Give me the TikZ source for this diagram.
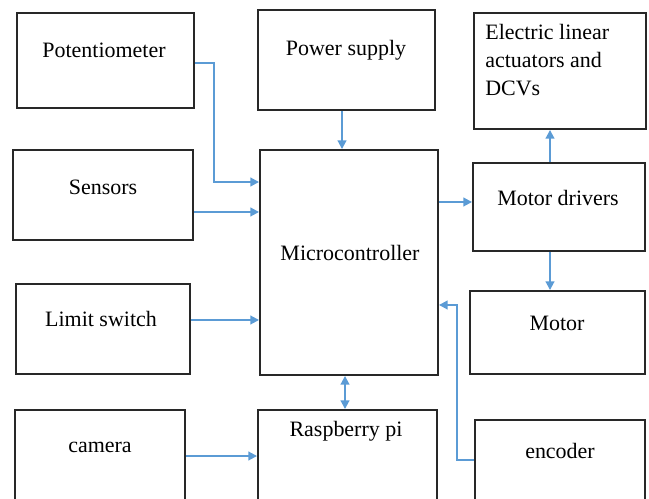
\documentclass[tikz,border=0pt]{standalone}
\usepackage{fontspec}
\setmainfont{Liberation Serif}
\usetikzlibrary{arrows.meta, positioning}
\definecolor{boxgray}{RGB}{40,40,40}
\definecolor{linkblue}{RGB}{91,155,213}

\begin{document}
\begin{tikzpicture}[
    x=0.02cm, y=-0.02cm,
    block/.style={rectangle, draw=boxgray, line width=1.1pt, minimum width=#1},
    block/.default=3.5cm,
    txt/.style={font=\fontsize{12.5}{15.9}\selectfont, inner sep=0pt},
    arrow/.style={-{Triangle[length=5pt, width=5pt]}, draw=linkblue, line width=1.1pt},
    twoway/.style={{Triangle[length=5pt, width=5pt]}-{Triangle[length=5pt, width=5pt]}, draw=linkblue, line width=1.1pt}
]
\useasboundingbox (0,0) rectangle (649,499);
\clip (0,0) rectangle (649,499);

% Left column
\node[block=3.54cm, minimum height=1.90cm] (pot) at (105.5,60.5) {};
\node[block=3.60cm, minimum height=1.80cm] (sens) at (103,195) {};
\node[block=3.48cm, minimum height=1.80cm] (lim) at (103,329) {};
\node[block=3.40cm, minimum height=2.20cm] (cam) at (100,465) {};

% Middle column
\node[block=3.54cm, minimum height=2.00cm] (power) at (346.5,60) {};
\node[block=3.56cm, minimum height=4.50cm] (micro) at (349,262.5) {};
\node[block=3.58cm, minimum height=2.20cm] (rpi) at (347.5,465) {};

% Right column
\node[block=3.44cm, minimum height=2.32cm] (elec) at (560,71) {};
\node[block=3.44cm, minimum height=1.76cm] (drv) at (559,207) {};
\node[block=3.50cm, minimum height=1.66cm] (motor) at (557.5,332.5) {};
\node[block=3.40cm, minimum height=2.20cm] (enc) at (560,475) {};

% Texts
\node[txt] (potT) at (104,50) {Potentiometer};
\node[txt] (sensT) at (103,187) {Sensors};
\node[txt] (limT) at (101,319) {Limit switch};
\node[txt] (camT) at (100,447) {camera};
\node[txt] (powerT) at (346,50) {Power supply};
\node[txt] (microT) at (350,253) {Microcontroller};
\node[txt] (rpiT) at (346,431) {Raspberry pi};
\node[txt, anchor=west, align=left] (elecT) at (485,60)
    {Electric linear\\actuators and\\DCVs};
\node[txt] (drvT) at (558,198) {Motor drivers};
\node[txt] (motorT) at (557,323) {Motor};
\node[txt] (encT) at (560,451) {encoder};

% Inputs to microcontroller
\draw[arrow] ([yshift=-0.05cm]pot.east) -- ++(19,0) |- ([yshift=1.61cm]micro.west);
\coordinate (s1) at ([yshift=-0.34cm]sens.east);
\draw[arrow] (s1) -- (s1 -| micro.west);
\coordinate (l1) at ([yshift=0.18cm]lim.east);
\draw[arrow] (l1) -- (l1 -| micro.west);
\draw[arrow] ([xshift=-0.09cm]power.south) -- ([xshift=-0.09cm]power.south |- micro.north);

% Outputs
\coordinate (d1) at ([yshift=0.1cm]drv.west);
\draw[arrow] (d1 -| micro.east) -- (d1);
\draw[arrow] ([xshift=-0.18cm]drv.north) -- ([xshift=-0.18cm]drv.north |- elec.south);
\draw[arrow] ([xshift=-0.18cm]drv.south) -- ([xshift=-0.18cm]drv.south |- motor.north);

% Feedback from encoder
\draw[arrow] ([yshift=0.3cm]enc.west) -- ++(-17,0) |- ([yshift=-0.85cm]micro.east);

% Raspberry pi link
\draw[twoway] ([xshift=-0.08cm]micro.south) -- ([xshift=-0.08cm]micro.south |- rpi.north);
\coordinate (c1) at ([yshift=0.18cm]cam.east);
\draw[arrow] (c1) -- (c1 -| rpi.west);

\end{tikzpicture}
\end{document}
